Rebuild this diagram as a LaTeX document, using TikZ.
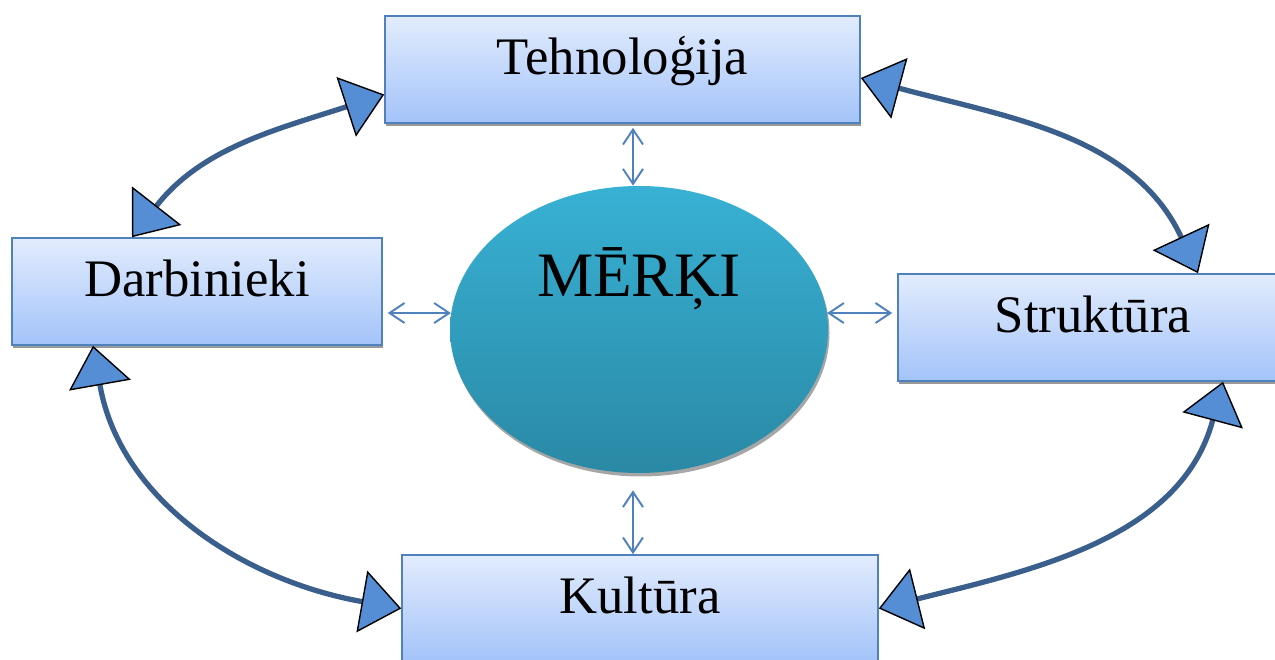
\documentclass[tikz,border=0pt]{standalone}
\usepackage{fontspec}
\setmainfont{Liberation Serif}
\usetikzlibrary{arrows.meta,shapes.geometric,shadows}
\definecolor{boxtop}{RGB}{226,236,253}
\definecolor{boxbot}{RGB}{163,195,249}
\definecolor{boxline}{RGB}{79,129,189}
\definecolor{goaltop}{RGB}{56,177,212}
\definecolor{goalbot}{RGB}{42,137,165}
\definecolor{ringline}{RGB}{59,95,140}
\definecolor{headfill}{RGB}{85,142,213}
\begin{document}
\begin{tikzpicture}[
  factor/.style={draw=boxline, line width=0.9pt, top color=boxtop, bottom color=boxbot,
    minimum height=2.14cm, text height=0.75cm, text depth=0.53cm,
    font=\fontsize{30}{36}\selectfont,
    drop shadow={shadow xshift=0.02cm, shadow yshift=-0.07cm, fill=gray!80, opacity=1}},
  goal/.style={ellipse, top color=goaltop, bottom color=goalbot, inner sep=0pt,
    minimum width=7.56cm, minimum height=5.74cm, text height=0.9cm, text depth=2.22cm,
    font=\fontsize{36}{43}\selectfont,
    drop shadow={shadow xshift=0.03cm, shadow yshift=-0.07cm, fill=gray!70, opacity=1}},
  duplex/.style={draw=boxline, line width=1.1pt,
    {Straight Barb[length=3mm,width=4mm]}-{Straight Barb[length=3mm,width=4mm]}},
  ring/.style={draw=ringline, line width=3pt,
    {Triangle[length=0.8cm,width=1.25cm,fill=headfill,color=black,line width=0.8pt]}-{Triangle[length=0.8cm,width=1.25cm,fill=headfill,color=black,line width=0.8pt]}}
]
\useasboundingbox (0,0) rectangle (25.5,13.2);
% Faktori
\node[factor, minimum width=9.5cm] (tech) at (12.45,11.81) {Tehnoloģija};
\node[factor, minimum width=7.4cm] (staff) at (3.94,7.37) {Darbinieki};
\node[factor, minimum width=7.8cm] (struct) at (21.86,6.65) {Struktūra};
\node[factor, minimum width=9.52cm] (cult) at (12.8,1.03) {Kultūra};
% Centrs
\node[goal] (goal) at (12.78,6.61) {MĒRĶI};
% Saites ar centru
\draw[duplex, shorten <=0.08cm] ([xshift=0.21cm]tech.south) -- ([xshift=-0.12cm]goal.north);
\draw[duplex, shorten <=0.1cm] ([yshift=-0.43cm]staff.east) -- (goal.175);
\draw[duplex, shorten >=0.1cm] (goal.5) -- ([yshift=0.29cm]struct.west);
\draw[duplex, shorten <=0.34cm] ([xshift=-0.12cm]goal.south) -- ([xshift=-0.14cm]cult.north);
% Aplis
\draw[ring] ([xshift=-1.3cm]staff.north) to[out=52, in=198] ([yshift=-0.5cm]tech.west);
\draw[ring] ([yshift=-0.17cm]tech.east) to[out=-15, in=115] ([xshift=2.1cm]struct.north);
\draw[ring] ([xshift=2.6cm]struct.south) to[out=255, in=14] (cult.east);
\draw[ring] (cult.west) to[out=170, in=280] ([xshift=-2.08cm]staff.south);
\end{tikzpicture}
\end{document}
